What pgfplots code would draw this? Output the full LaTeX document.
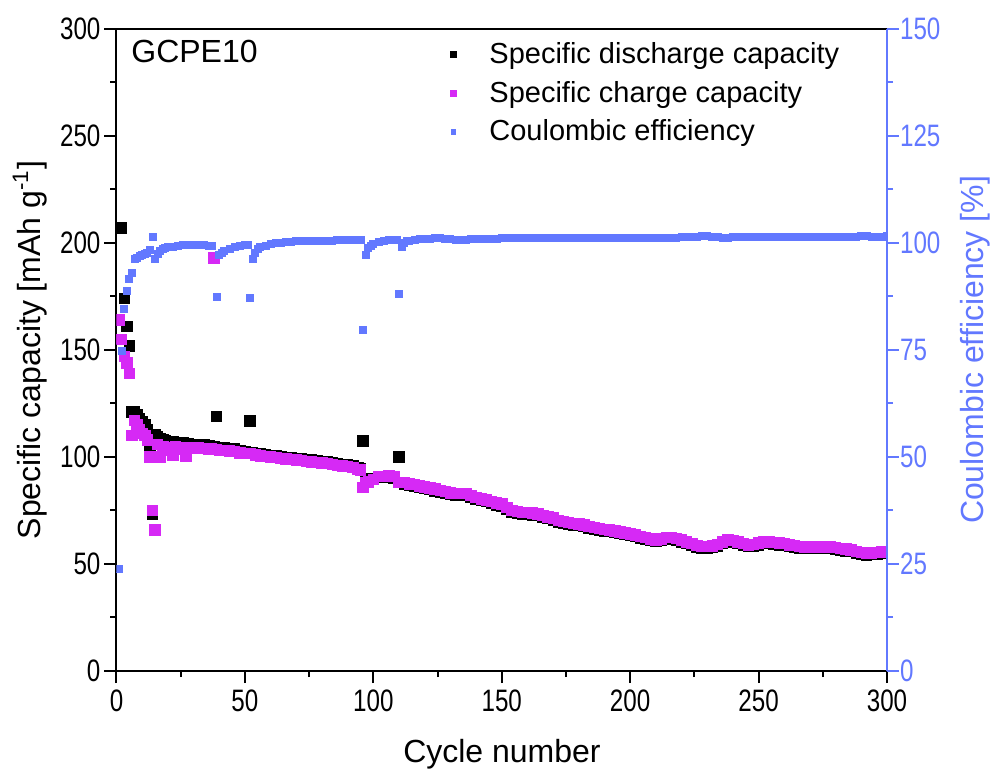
\documentclass[border=0pt]{standalone}
\usepackage{fontspec}
\setmainfont{Liberation Sans}
\newfontfamily\tickfont{Liberation Sans}[FakeStretch=0.78]
\usepackage{pgfplots}
\pgfplotsset{compat=1.18}
\definecolor{cpink}{RGB}{214,41,245}
\definecolor{cblue}{RGB}{98,120,255}
\begin{document}
\begin{tikzpicture}
\useasboundingbox (-58.25pt,-50pt) rectangle (440.25pt,335.5pt);
\begin{axis}[
  at={(0pt,0pt)}, anchor=south west,
  scale only axis, width=385.25pt, height=321pt,
  xmin=0, xmax=300, ymin=0, ymax=300,
  xtick={0,50,...,300}, ytick={0,50,...,300},
  minor x tick num=1, minor y tick num=1,
  xtick pos=bottom, ytick pos=left,
  tick align=outside,
  major tick length=6pt, minor tick length=3pt,
  axis line style={line width=1pt},
  tick style={line width=1pt, black},
  /pgf/number format/assume math mode=true,
  tick label style={font=\tickfont\fontsize{15.5}{18}\selectfont},
  yticklabel style={xshift=1.5pt},
  xlabel={Cycle number}, ylabel={Specific capacity [mAh g\textsuperscript{-1}]},
  every axis x label/.style={at={(axis description cs:0.5003,-0.13)}, anchor=center, font=\fontsize{16}{19}\selectfont},
  every axis y label/.style={at={(axis description cs:-0.1123,0.5)}, anchor=center, rotate=90, font=\fontsize{16}{19}\selectfont},
  clip marker paths=true,
]
\addplot[only marks, mark=square*, black, mark size=2.6pt] coordinates {
(2,207)(3,174)(4,161)(5,152)(6,121)(7,121)(8,120)(9,118)(10,116.5)(11,115)(12,113)(13,103)(14,73.5)(15,110.5)
(16,109.5)(17,108.5)(18,108)(19,107.5)(20,107.2)(22,107)(24,106.8)(26,106.5)(28,106.3)(30,106)(32,105.8)(34,105.6)(36,105.3)(38,105)
(39,119)(40,104.6)(42,104.3)(44,104)(46,103.7)(48,103.2)(50,102.6)(52,116.8)(53,102.2)
(54,101.8)(56,101.4)(58,101.1)(60,100.8)(62,100.5)(64,100.2)(66,99.9)(68,99.6)(70,99.4)(72,99.1)(74,98.8)(76,98.6)(78,98.4)
(80,98)(82,97.7)(84,97.3)(86,96.9)(88,96.6)(90,96.3)(92,95.8)(94,95)(95,94.8)(96,107.6)(97,90)(98,89.4)(100,89.9)
(102,90.6)(104,90.4)(106,90.4)(108,90.3)(110,100)(111,88.2)(112,87.4)(114,86.7)(116,86.4)(118,85.7)(120,85.2)
(122,84.8)(124,84.2)(126,83.7)(128,83.2)(130,82.4)(132,82.2)(134,82.2)(136,82.2)(138,81.2)(140,80.2)(142,79.7)
(144,79.2)(146,78.4)(148,77.7)(150,77.2)(152,75.7)(154,74.2)(156,73.7)(158,73.4)(160,73.2)(162,73)(164,72.7)
(166,71.9)(168,71.2)(170,70.7)(172,69.7)(174,69)(176,68.7)(178,68.2)(180,68)(182,67.5)(184,66.9)(186,66.4)
(188,65.8)(190,65.4)(192,65.1)(194,64.7)(196,64.2)(198,63.7)(200,63.3)(202,62.8)(204,62.2)(206,61.6)(208,61)
(210,60.5)(212,60.9)(214,61.5)(216,61.5)(218,61.2)(220,60.4)(222,59.5)(224,58.7)(226,57.9)(228,57.4)(230,57.4)
(232,57.7)(234,58.4)(236,59.5)(238,60.4)(240,60.2)(242,59.5)(244,58.8)(246,58.2)(248,58.4)(250,59)(252,59.5)
(254,59.6)(256,59.4)(258,59)(260,58.7)(262,58.2)(264,57.8)(266,57.4)(268,57.2)(270,57.2)(272,57.2)(274,57.2)
(276,57.2)(278,57.2)(280,57)(282,56.6)(284,56.2)(286,55.8)(288,55.2)(290,54.7)(292,54.2)(294,54.4)(296,54.7)
(298,54.9)(300,55)
};
\addplot[only marks, mark=square*, cpink, mark size=2.6pt] coordinates {
(1,164)(2,155)(3,147)(4,144)(5,139)(6,110)(7,117)(8,115)(9,113)(10,111)(11,110)(12,108)(13,100)(14,75)(15,66)
(16,106)(17,100)(18,105)(19,104)(20,104.5)(21,103)(22,101)(23,105)(24,104)(25,104.5)(26,103.5)(27,100.5)(28,104.5)
(29,104)(30,104.3)(31,104)(32,104.2)(33,104)(34,104)(35,104)(36,103.8)(37,103.7)(38,193)(39,103.5)(40,103.2)
(42,103)(44,102.8)(46,102.5)(48,102)(50,101.6)(52,101.8)(54,101)(56,100.6)(58,100.3)(60,100)(62,99.7)(64,99.4)
(66,99.1)(68,98.8)(70,98.6)(72,98.3)(74,98)(76,97.8)(78,97.6)(80,97.2)(82,96.9)(84,96.5)(86,96.1)(88,95.8)
(90,95.5)(92,95)(94,94.2)(95,94)(96,85.8)(97,88)(98,88.3)(100,89.5)(102,90.8)(104,91)(106,91.1)(108,91)
(110,88)(112,88)(114,87.5)(116,87.2)(118,86.5)(120,86)(122,85.6)(124,85)(126,84.5)(128,84)(130,83.2)(132,83)
(134,83)(136,83)(138,82)(140,81)(142,80.5)(144,80)(146,79.2)(148,78.5)(150,78)(152,76.5)(154,75)(156,74.5)
(158,74.2)(160,74)(162,73.8)(164,73.5)(166,72.7)(168,72)(170,71.5)(172,70.5)(174,69.8)(176,69.5)(178,69)
(180,68.8)(182,68.3)(184,67.7)(186,67.2)(188,66.6)(190,66.2)(192,65.9)(194,65.5)(196,65)(198,64.5)(200,64.1)
(202,63.6)(204,63)(206,62.4)(208,61.8)(210,61.3)(212,61.7)(214,62.3)(216,62.3)(218,62)(220,61.2)(222,60.3)
(224,59.5)(226,58.7)(228,58.2)(230,58.2)(232,58.5)(234,59.2)(236,60.3)(238,61.2)(240,61)(242,60.3)(244,59.6)
(246,59)(248,59.2)(250,59.8)(252,60.3)(254,60.4)(256,60.2)(258,59.8)(260,59.5)(262,59)(264,58.6)(266,58.2)
(268,58)(270,58)(272,58)(274,58)(276,58)(278,58)(280,57.8)(282,57.4)(284,57)(286,56.6)(288,56)(290,55.5)
(292,55)(294,55.2)(296,55.5)(298,55.7)(300,55.8)
};
\node[anchor=west, inner sep=0pt, font=\fontsize{16}{19}\selectfont] at (axis description cs:0.0188,0.9642) {GCPE10};
\end{axis}
\begin{axis}[
  at={(0pt,0pt)}, anchor=south west,
  scale only axis, width=385.25pt, height=321pt,
  xmin=0, xmax=300, ymin=0, ymax=150,
  axis x line=none, axis y line*=right,
  ytick={0,25,...,150}, minor y tick num=1,
  tick align=outside, major tick length=6pt, minor tick length=3pt,
  y axis line style={cblue, line width=1pt},
  ytick style={cblue, line width=1pt},
  /pgf/number format/assume math mode=true,
  yticklabel style={cblue, xshift=-3pt, font=\tickfont\fontsize{15.5}{18}\selectfont},
  ylabel={Coulombic efficiency [\%]},
  every axis y label/.style={at={(axis description cs:1.114,0.5)}, anchor=center, rotate=90, text=cblue, font=\fontsize{16}{19}\selectfont},
  clip marker paths=true,
  legend image code/.code={\path[draw=none,fill=none] (0pt,-3pt) rectangle (23pt,3pt); \draw[#1] plot coordinates {(7pt,0pt)};},
  legend style={at={(rel axis cs:0.4186,0.986)}, anchor=north west, draw=none, fill=none, inner sep=0pt, row sep=3.3pt, font=\fontsize{14.5}{17}\selectfont},
  legend cell align=left,
]
\addlegendimage{only marks, mark=square*, black, mark size=1.5pt}
\addlegendentry{Specific discharge capacity}
\addlegendimage{only marks, mark=square*, cpink, mark size=1.5pt}
\addlegendentry{Specific charge capacity}
\addplot[only marks, mark=square*, cblue, mark size=1.75pt, legend image post style={mark size=1.2pt}] coordinates {
(1,23.8)(2,74.8)(3,84.6)(4,88.9)(5,91.6)(6,93)(7,96.3)(8,96.6)(9,96.9)(10,97.2)(11,97.4)(12,97.6)(13,98.5)(14,101.5)
(15,96.4)(16,97.5)(17,98.2)(18,98.6)(19,98.8)(20,99)(22,99.2)(24,99.3)(26,99.5)(28,99.5)(30,99.5)(32,99.5)(34,99.5)
(36,99.4)(37,99.3)(39,87.5)(40,97.2)(41,97.8)(42,98.1)(44,98.6)(46,99)(48,99.3)(50,99.5)(51,99.6)(52,87.2)(53,96.2)
(54,97.8)(55,98.6)(56,99)(58,99.4)(60,99.8)(62,100)(64,100.1)(66,100.2)(68,100.3)(70,100.4)(72,100.4)(74,100.5)
(76,100.5)(78,100.5)(80,100.6)(82,100.6)(84,100.6)(86,100.7)(88,100.7)(90,100.7)(92,100.7)(94,100.7)(95,100.7)
(96,79.7)(97,97.2)(98,98.8)(99,99.3)(100,99.7)(102,100.2)(104,100.6)(106,100.7)(108,100.7)(109,100.7)(110,88)
(111,99.2)(112,100)(113,100.4)(114,100.6)(116,100.8)(118,100.9)(120,101)(122,101)(124,101.1)(126,101.1)(128,101)
(130,100.9)(132,100.8)(134,100.8)(136,100.8)(138,100.9)(140,100.9)(142,100.9)(144,101)(146,101)(148,101)(150,101.1)
(152,101.1)(154,101.1)(156,101.2)(158,101.2)(160,101.2)(162,101.2)(164,101.2)(166,101.2)(168,101.3)(170,101.3)
(172,101.3)(174,101.3)(176,101.3)(178,101.3)(180,101.3)(182,101.3)(184,101.3)(186,101.3)(188,101.3)(190,101.3)
(192,101.2)(194,101.2)(196,101.3)(198,101.3)(200,101.3)(202,101.3)(204,101.3)(206,101.3)(208,101.3)(210,101.3)
(212,101.2)(214,101.2)(216,101.3)(218,101.3)(220,101.4)(222,101.4)(224,101.4)(226,101.5)(228,101.6)(230,101.6)
(232,101.5)(234,101.4)(236,101.3)(238,101.3)(240,101.4)(242,101.4)(244,101.4)(246,101.5)(248,101.5)(250,101.5)
(252,101.5)(254,101.4)(256,101.4)(258,101.5)(260,101.5)(262,101.5)(264,101.5)(266,101.5)(268,101.5)(270,101.5)
(272,101.5)(274,101.5)(276,101.5)(278,101.5)(280,101.5)(282,101.5)(284,101.5)(286,101.5)(288,101.5)(290,101.6)
(292,101.6)(294,101.5)(296,101.5)(298,101.5)(300,101.6)
};
\addlegendentry{Coulombic efficiency}
\end{axis}
\end{tikzpicture}
\end{document}
